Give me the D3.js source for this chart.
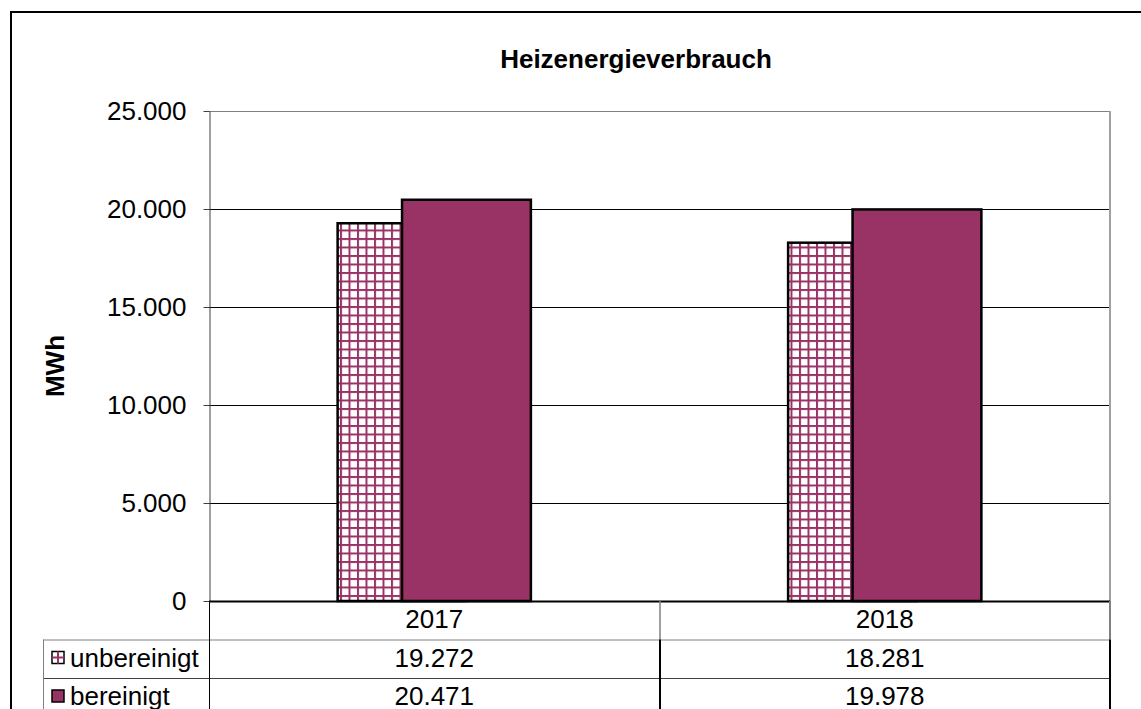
<!DOCTYPE html>
<html>
<head>
<meta charset="utf-8">
<script src="https://cdn.jsdelivr.net/npm/d3@7"></script>
<style>
  body { margin: 0; background: #fff; }
  text { font-family: "Liberation Sans", Arial, sans-serif; fill: #000; }
</style>
</head>
<body>
<div id="chart"></div>
<script>
// chart data
var years = ["2017", "2018"];
var seriesNames = ["unbereinigt", "bereinigt"];
var unbereinigt = [19272, 18281];
var bereinigt = [20471, 19978];
var yTicks = [0, 5000, 10000, 15000, 20000, 25000];

var width = 1141,
    height = 709,
    plot = { left: 209, right: 1110, top: 111, bottom: 601 },
    tableLeft = 43,
    rowH = 38.5,
    fontSize = "26px",
    barColour = "#993366";

var de = d3.formatLocale({ decimal: ",", thousands: ".", grouping: [3], currency: ["", " €"] });
var fmt = de.format(",d");

var svg = d3.select("#chart").append("svg")
    .attr("width", width)
    .attr("height", height);

// pattern for the "unbereinigt" bars
var defs = svg.append("defs");
var pat = defs.append("pattern")
    .attr("id", "grid")
    .attr("patternUnits", "userSpaceOnUse")
    .attr("width", 8.5).attr("height", 8.5);
pat.append("rect").attr("width", 8.5).attr("height", 8.5).attr("fill", "#fff");
pat.append("rect").attr("x", 0).attr("y", 0).attr("width", 2).attr("height", 8.5).attr("fill", barColour);
pat.append("rect").attr("x", 0).attr("y", 0).attr("width", 8.5).attr("height", 2).attr("fill", barColour);

// outer frame
svg.append("rect")
    .attr("x", 11).attr("y", 12)
    .attr("width", width + 20).attr("height", height + 20)
    .attr("fill", "none").attr("stroke", "#000").attr("stroke-width", 2);

// scales
var x = d3.scaleBand().domain(years).range([plot.left, plot.right]);
var y = d3.scaleLinear().domain([0, 25000]).range([plot.bottom, plot.top]);
var bw = x.bandwidth() * 0.286;

// gridlines
svg.append("g").selectAll("line")
    .data(yTicks.filter(function(d) { return d > 0 && d < 25000; }))
    .enter().append("line")
    .attr("x1", plot.left).attr("x2", plot.right)
    .attr("y1", function(d) { return y(d) + 0.5; })
    .attr("y2", function(d) { return y(d) + 0.5; })
    .attr("stroke", "#000").attr("stroke-width", 1);

// plot area border (top and right, grey)
svg.append("line")
    .attr("x1", plot.left).attr("x2", plot.right)
    .attr("y1", plot.top + 0.5).attr("y2", plot.top + 0.5)
    .attr("stroke", "#808080");
svg.append("line")
    .attr("x1", plot.right).attr("x2", plot.right)
    .attr("y1", plot.top).attr("y2", plot.bottom)
    .attr("stroke", "#a0a0a0").attr("stroke-width", 2);

// bars
var bars = svg.append("g");
bars.selectAll(".unb")
    .data(unbereinigt)
    .enter().append("rect")
    .attr("x", function(d, i) { return x(years[i]) + x.bandwidth() / 2 - bw * 0.75; })
    .attr("y", function(d) { return y(d); })
    .attr("width", bw)
    .attr("height", function(d) { return y(0) - y(d); })
    .attr("fill", "url(#grid)")
    .attr("stroke", "#000").attr("stroke-width", 2.5);
bars.selectAll(".ber")
    .data(bereinigt)
    .enter().append("rect")
    .attr("x", function(d, i) { return x(years[i]) + x.bandwidth() / 2 - bw * 0.25; })
    .attr("y", function(d) { return y(d); })
    .attr("width", bw)
    .attr("height", function(d) { return y(0) - y(d); })
    .attr("fill", barColour)
    .attr("stroke", "#000").attr("stroke-width", 2.5);

// y axis
var yAxis = svg.append("g")
    .attr("transform", "translate(" + (plot.left + 0.5) + ",0)")
    .call(d3.axisLeft(y).tickValues(yTicks).tickFormat(fmt).tickSize(6).tickSizeOuter(0).tickPadding(17));
yAxis.select(".domain").attr("stroke", "#404040");
yAxis.selectAll(".tick line").attr("stroke", "#404040");
yAxis.selectAll("text")
    .style("font-family", '"Liberation Sans", Arial, sans-serif')
    .style("font-size", fontSize)
    .attr("fill", "#000");

// x axis line
svg.append("line")
    .attr("x1", plot.left).attr("x2", plot.right)
    .attr("y1", plot.bottom + 0.5).attr("y2", plot.bottom + 0.5)
    .attr("stroke", "#000").attr("stroke-width", 2);

// data table
var table = svg.append("g");
var rowTop = function(i) { return plot.bottom + rowH * i; };

// horizontal lines
[1, 2].forEach(function(i) {
    table.append("line")
        .attr("x1", tableLeft).attr("x2", plot.right)
        .attr("y1", rowTop(i) + 0.5).attr("y2", rowTop(i) + 0.5)
        .attr("stroke", i === 1 ? "#808080" : "#404040");
});
// vertical lines
table.append("line")
    .attr("x1", tableLeft + 0.5).attr("x2", tableLeft + 0.5)
    .attr("y1", rowTop(1)).attr("y2", height)
    .attr("stroke", "#808080");
table.append("line")
    .attr("x1", plot.left + 0.5).attr("x2", plot.left + 0.5)
    .attr("y1", plot.bottom).attr("y2", height)
    .attr("stroke", "#000");
table.append("line")
    .attr("x1", x("2018") + 0.5).attr("x2", x("2018") + 0.5)
    .attr("y1", plot.bottom).attr("y2", rowTop(1))
    .attr("stroke", "#808080").attr("stroke-width", 1.5);
table.append("line")
    .attr("x1", x("2018") + 0.5).attr("x2", x("2018") + 0.5)
    .attr("y1", rowTop(1)).attr("y2", height)
    .attr("stroke", "#000").attr("stroke-width", 2);
table.append("line")
    .attr("x1", plot.right).attr("x2", plot.right)
    .attr("y1", plot.bottom).attr("y2", rowTop(1))
    .attr("stroke", "#808080").attr("stroke-width", 2);
table.append("line")
    .attr("x1", plot.right).attr("x2", plot.right)
    .attr("y1", rowTop(1)).attr("y2", height)
    .attr("stroke", "#000").attr("stroke-width", 2);

// category labels
table.selectAll(".cat")
    .data(years)
    .enter().append("text")
    .attr("x", function(d) { return x(d) + x.bandwidth() / 2; })
    .attr("y", rowTop(0) + 27)
    .attr("text-anchor", "middle")
    .style("font-size", fontSize)
    .text(function(d) { return d; });

// value rows
[unbereinigt, bereinigt].forEach(function(vals, r) {
    table.selectAll(".v" + r)
        .data(vals)
        .enter().append("text")
        .attr("x", function(d, i) { return x(years[i]) + x.bandwidth() / 2; })
        .attr("y", rowTop(r + 1) + 27)
        .attr("text-anchor", "middle")
        .style("font-size", fontSize)
        .text(function(d) { return fmt(d); });

    // legend key
    table.append("rect")
        .attr("x", 52).attr("y", rowTop(r + 1) + 12)
        .attr("width", 12).attr("height", 12)
        .attr("fill", r === 0 ? "#fff" : barColour)
        .attr("stroke", "#000").attr("stroke-width", 1.5);
    if (r === 0) {
        table.append("line")
            .attr("x1", 58).attr("x2", 58)
            .attr("y1", rowTop(1) + 12).attr("y2", rowTop(1) + 24)
            .attr("stroke", barColour).attr("stroke-width", 2);
        table.append("line")
            .attr("x1", 52).attr("x2", 64)
            .attr("y1", rowTop(1) + 18).attr("y2", rowTop(1) + 18)
            .attr("stroke", barColour).attr("stroke-width", 2);
    }
    table.append("text")
        .attr("x", 70).attr("y", rowTop(r + 1) + 27)
        .style("font-size", fontSize)
        .text(seriesNames[r]);
});

// title
svg.append("text")
    .attr("x", 636).attr("y", 68)
    .attr("text-anchor", "middle")
    .style("font-size", "26px")
    .style("font-weight", "bold")
    .text("Heizenergieverbrauch");

// y axis title
svg.append("text")
    .attr("transform", "translate(64,366) rotate(-90)")
    .attr("text-anchor", "middle")
    .style("font-size", "26px")
    .style("font-weight", "bold")
    .text("MWh");
</script>
</body>
</html>
